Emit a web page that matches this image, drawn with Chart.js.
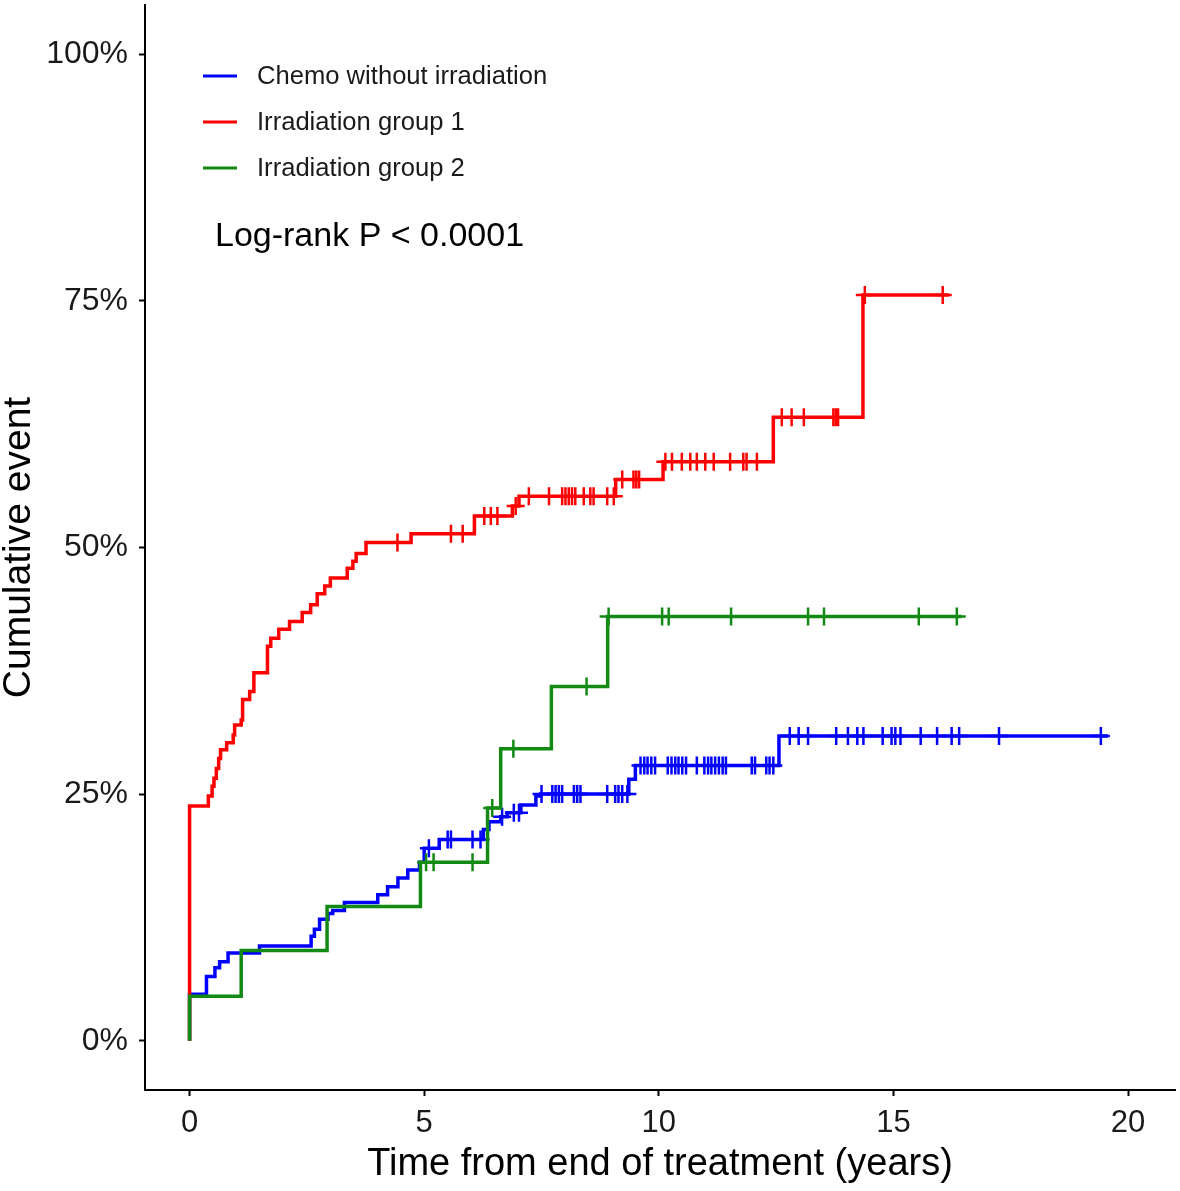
<!DOCTYPE html>
<html>
<head>
<meta charset="utf-8">
<script src="https://cdn.jsdelivr.net/npm/chart.js@4.4.0/dist/chart.umd.min.js"></script>
<style>
html, body { margin: 0; padding: 0; background: #fff; }
#kmChart { display: block; }
</style>
</head>
<body>
<canvas id="kmChart" width="1180" height="1191"></canvas>
<script>
// groups
var groupNames = ['Chemo without irradiation', 'Irradiation group 1', 'Irradiation group 2'];
var groupColors = ['#0000ff', '#ff0000', '#138a13'];

// Chemo without irradiation: event times (years), cumulative event (%), censored times
var chemoTimes = [0, 0, 0.36, 0.54, 0.64, 0.82, 1.49, 2.59, 2.66, 2.77, 2.95, 3.05, 3.30, 4.01, 4.22, 4.44, 4.65, 4.90, 5.00, 5.32, 6.26, 6.38, 6.63, 6.77, 7.06, 7.38, 7.48, 9.36, 9.50, 12.56];
var chemoEvents = [0, 4.7, 6.5, 7.4, 8.0, 8.9, 9.6, 10.6, 11.3, 12.3, 12.9, 13.2, 14.0, 14.8, 15.6, 16.5, 17.3, 18.1, 19.5, 20.4, 21.4, 22.2, 22.7, 23.1, 23.9, 24.8, 25.0, 26.5, 27.9, 30.9];
var chemoCensored = [5.10, 5.50, 5.57, 6.03, 6.20, 6.66, 6.91, 7.02, 7.50, 7.73, 7.80, 7.87, 7.94, 8.19, 8.26, 8.33, 8.90, 9.07, 9.14, 9.22, 9.33,
  9.61, 9.69, 9.76, 9.84, 9.92, 10.19, 10.27, 10.35, 10.42, 10.50, 10.58, 10.81, 10.97, 11.05, 11.12, 11.20, 11.28, 11.36, 11.43,
  11.98, 12.05, 12.29, 12.36, 12.44, 12.79, 12.98, 13.18, 13.78, 14.03, 14.23, 14.36, 14.77, 14.96, 15.04, 15.15, 15.58, 15.93,
  16.24, 16.40, 17.25, 19.42];
var chemoEnd = 19.57;

// Irradiation group 1
var irr1Times = [0, 0, 0.40, 0.48, 0.52, 0.57, 0.62, 0.66, 0.79, 0.93, 0.96, 1.10, 1.13, 1.28, 1.37, 1.66, 1.73, 1.90, 2.13, 2.40, 2.58, 2.72, 2.88, 3.00, 3.36, 3.48, 3.55, 3.76, 4.72, 6.07, 6.88, 7.02, 9.08, 10.09, 12.44, 14.35];
var irr1Events = [0, 23.8, 24.8, 25.8, 26.6, 27.6, 28.6, 29.5, 30.2, 31.0, 32.0, 32.5, 34.6, 35.4, 37.3, 40.0, 40.8, 41.7, 42.5, 43.4, 44.2, 45.3, 46.1, 46.9, 47.9, 48.6, 49.4, 50.5, 51.4, 53.2, 54.2, 55.2, 56.9, 58.7, 63.2, 75.6];
var irr1Censored = [4.43, 5.57, 5.82, 6.28, 6.42, 6.56, 6.95, 7.23, 7.66, 7.94, 8.01, 8.08, 8.15, 8.22, 8.40, 8.54, 8.61, 8.90, 9.04,
  9.22, 9.46, 9.52, 9.58, 10.14, 10.28, 10.49, 10.67, 10.81, 10.99, 11.17, 11.52, 11.80, 11.87, 12.09, 12.62, 12.83, 13.09,
  13.72, 13.77, 13.82, 14.39, 16.05];
var irr1End = 16.18;

// Irradiation group 2
var irr2Times = [0, 0, 1.10, 2.93, 4.92, 6.35, 6.63, 7.71, 8.91];
var irr2Events = [0, 4.5, 9.15, 13.6, 18.1, 23.6, 29.6, 35.9, 43.0];
var irr2Censored = [5.04, 5.20, 6.03, 6.45, 6.90, 8.46, 8.93, 10.07, 10.21, 11.54, 13.18, 13.52, 15.54, 16.35];
var irr2End = 16.45;

// axes
var xTicks = [0, 5, 10, 15, 20];
var yTicks = [0, 25, 50, 75, 100];
var pValueText = 'Log-rank P < 0.0001';

function levelAt(times, events, t) {
    var v = 0;
    for (var i = 0; i < times.length; i++) {
        if (times[i] <= t) v = events[i];
    }
    return v;
}

function stepPoints(times, events, end) {
    var pts = times.map(function (t, i) { return { x: t, y: events[i] }; });
    pts.push({ x: end, y: events[events.length - 1] });
    return pts;
}

function censorPoints(times, events, censored) {
    return censored.map(function (t) { return { x: t, y: levelAt(times, events, t) }; });
}

var groups = [
    { times: chemoTimes, events: chemoEvents, censored: chemoCensored, end: chemoEnd, order: 3 },
    { times: irr1Times, events: irr1Events, censored: irr1Censored, end: irr1End, order: 2 },
    { times: irr2Times, events: irr2Events, censored: irr2Censored, end: irr2End, order: 1 }
];

var datasets = [];
groups.forEach(function (g, i) {
    datasets.push({
        label: groupNames[i],
        data: stepPoints(g.times, g.events, g.end),
        borderColor: groupColors[i],
        borderWidth: 3.5,
        stepped: 'before',
        pointRadius: 0,
        fill: false,
        order: g.order,
        isCurve: true
    });
    datasets.push({
        label: groupNames[i] + ' censored',
        data: censorPoints(g.times, g.events, g.censored),
        showLine: false,
        pointStyle: 'cross',
        pointRadius: 9,
        borderColor: groupColors[i],
        borderWidth: 2.5,
        order: g.order
    });
});

var fontFamily = '"Liberation Sans", Arial, sans-serif';

var legendPlugin = {
    id: 'kmLegend',
    afterDraw: function (chart) {
        var ctx = chart.ctx;
        ctx.save();
        var rowY = [76, 122, 168];
        chart.data.datasets.filter(function (d) { return d.isCurve; }).forEach(function (d, i) {
            ctx.strokeStyle = d.borderColor;
            ctx.lineWidth = 3;
            ctx.beginPath();
            ctx.moveTo(203, rowY[i]);
            ctx.lineTo(237, rowY[i]);
            ctx.stroke();
            ctx.fillStyle = '#1a1a1a';
            ctx.font = '25.6px ' + fontFamily;
            ctx.textBaseline = 'middle';
            ctx.textAlign = 'left';
            ctx.fillText(d.label, 257, rowY[i] + 1);
        });
        ctx.font = '34px ' + fontFamily;
        ctx.fillStyle = '#000';
        ctx.textBaseline = 'alphabetic';
        ctx.fillText(pValueText, 215, 246);
        ctx.restore();
    }
};

function noPad(scale) {
    scale.paddingTop = 0;
    scale.paddingBottom = 0;
    scale.paddingLeft = 0;
    scale.paddingRight = 0;
}

var kmChart = new Chart(document.getElementById('kmChart'), {
    type: 'line',
    data: { datasets: datasets },
    options: {
        responsive: false,
        animation: false,
        layout: { autoPadding: false, padding: { top: 5, right: 5, left: 0, bottom: 0 } },
        plugins: {
            legend: { display: false },
            tooltip: { enabled: false }
        },
        scales: {
            x: {
                type: 'linear',
                min: -0.95,
                max: 21.0,
                afterBuildTicks: function (scale) {
                    scale.ticks = xTicks.map(function (v) { return { value: v }; });
                },
                afterFit: function (scale) { scale.height = 101; noPad(scale); },
                grid: { drawOnChartArea: false, drawTicks: true, tickLength: 6, tickWidth: 2, tickColor: '#000' },
                border: { display: true, color: '#000', width: 2 },
                ticks: { color: '#1a1a1a', padding: 9, font: { family: fontFamily, size: 31 } },
                title: {
                    display: true,
                    text: 'Time from end of treatment (years)',
                    color: '#000',
                    padding: { top: 0, bottom: 7 },
                    font: { family: fontFamily, size: 38, lineHeight: 1 }
                }
            },
            y: {
                type: 'linear',
                min: -5,
                max: 105,
                afterBuildTicks: function (scale) {
                    scale.ticks = yTicks.map(function (v) { return { value: v }; });
                },
                afterFit: function (scale) { scale.width = 145; noPad(scale); },
                grid: { drawOnChartArea: false, drawTicks: true, tickLength: 6, tickWidth: 2, tickColor: '#000' },
                border: { display: true, color: '#000', width: 2 },
                ticks: {
                    color: '#1a1a1a',
                    padding: 11,
                    font: { family: fontFamily, size: 32 },
                    callback: function (v) { return v + '%'; }
                },
                title: {
                    display: true,
                    text: 'Cumulative event',
                    color: '#000',
                    padding: { top: 0, bottom: 0 },
                    font: { family: fontFamily, size: 39, lineHeight: 1 }
                }
            }
        }
    },
    plugins: [legendPlugin]
});
</script>
</body>
</html>
